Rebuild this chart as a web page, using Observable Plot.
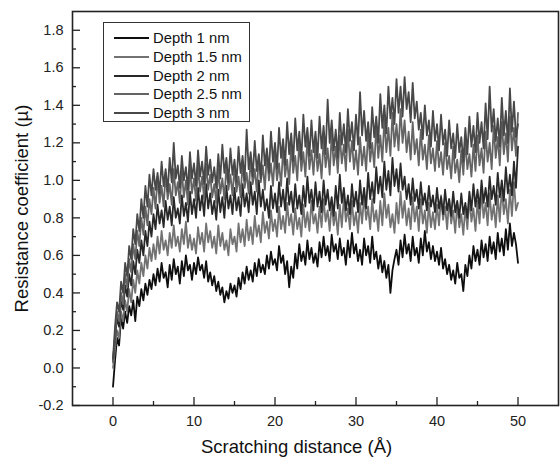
<!DOCTYPE html>
<html><head><meta charset="utf-8">
<script src="https://cdn.jsdelivr.net/npm/d3@7"></script>
<script src="https://cdn.jsdelivr.net/npm/@observablehq/plot@0.6"></script>
<style>
body{margin:0;background:#fff;}
#wrap{position:relative;width:560px;height:457px;font-family:"Liberation Sans",Arial,sans-serif;}
#legend{position:absolute;left:103px;top:22px;width:147px;height:100px;border:1px solid #333;background:#fff;box-sizing:border-box;}
.row{position:absolute;left:0;height:18px;display:flex;align-items:center;white-space:nowrap;}
.sw{display:inline-block;width:35px;height:2px;margin-left:10px;margin-right:4px;}
.lab{font-size:14.8px;color:#111;}
</style></head><body><div id="wrap"></div>
<script>
// Sampling step along scratching distance (Å)
const step = 0.25;
const seriesNames = ["Depth 1 nm", "Depth 1.5 nm", "Depth 2 nm", "Depth 2.5 nm", "Depth 3 nm"];
const seriesColors = ["#0e0e0e", "#727272", "#282828", "#646464", "#484848"];

const depth1 = [
 -0.10,0.04,0.16,0.12,0.27,0.21,0.30,0.24,0.33,0.28,0.36,0.25,0.38,0.33,0.42,0.36,0.45,0.39,0.47,0.42,
 0.50,0.44,0.53,0.46,0.56,0.48,0.51,0.43,0.55,0.47,0.58,0.50,0.54,0.45,0.57,0.49,0.60,0.52,0.55,0.47,
 0.56,0.50,0.59,0.52,0.55,0.48,0.57,0.46,0.51,0.44,0.49,0.41,0.46,0.39,0.43,0.35,0.41,0.37,0.45,0.40,
 0.44,0.38,0.48,0.42,0.51,0.45,0.54,0.47,0.52,0.46,0.56,0.49,0.58,0.51,0.55,0.50,0.60,0.53,0.62,0.55,
 0.58,0.52,0.65,0.56,0.60,0.50,0.57,0.43,0.54,0.48,0.61,0.53,0.66,0.57,0.62,0.55,0.68,0.58,0.64,0.56,
 0.61,0.54,0.67,0.59,0.70,0.60,0.65,0.57,0.71,0.62,0.66,0.58,0.69,0.60,0.64,0.55,0.68,0.59,0.72,0.61,
 0.66,0.57,0.63,0.55,0.69,0.60,0.65,0.56,0.70,0.58,0.62,0.53,0.60,0.51,0.57,0.48,0.55,0.40,0.52,0.58,
 0.63,0.55,0.68,0.59,0.71,0.61,0.66,0.57,0.70,0.60,0.64,0.56,0.69,0.60,0.73,0.62,0.67,0.58,0.65,0.57,
 0.62,0.55,0.64,0.53,0.58,0.50,0.55,0.47,0.52,0.45,0.56,0.48,0.50,0.41,0.55,0.49,0.60,0.53,0.65,0.57,
 0.63,0.55,0.68,0.59,0.66,0.57,0.70,0.61,0.67,0.58,0.72,0.62,0.69,0.60,0.74,0.63,0.77,0.65,0.72,0.66,
 0.56];
const depth15 = [
 0.00,0.10,0.20,0.16,0.30,0.25,0.36,0.30,0.42,0.35,0.47,0.40,0.52,0.45,0.56,0.49,0.60,0.53,0.64,0.57,
 0.66,0.58,0.70,0.61,0.73,0.63,0.68,0.60,0.72,0.64,0.76,0.65,0.70,0.62,0.74,0.66,0.78,0.64,0.71,0.63,
 0.69,0.61,0.75,0.66,0.72,0.62,0.77,0.67,0.73,0.64,0.70,0.61,0.76,0.65,0.72,0.63,0.68,0.60,0.74,0.66,
 0.70,0.62,0.77,0.67,0.74,0.65,0.79,0.68,0.75,0.66,0.81,0.70,0.76,0.67,0.83,0.72,0.78,0.69,0.84,0.73,
 0.79,0.70,0.86,0.74,0.81,0.72,0.88,0.76,0.82,0.71,0.85,0.74,0.80,0.70,0.87,0.75,0.83,0.73,0.89,0.77,
 0.82,0.72,0.86,0.75,0.90,0.78,0.84,0.73,0.88,0.76,0.83,0.71,0.87,0.75,0.91,0.78,0.85,0.74,0.89,0.76,
 0.83,0.72,0.88,0.77,0.92,0.79,0.86,0.74,0.90,0.78,0.84,0.73,0.89,0.76,0.93,0.80,0.87,0.75,0.82,0.72,
 0.88,0.77,0.94,0.80,0.89,0.76,0.85,0.74,0.91,0.78,0.86,0.73,0.90,0.77,0.84,0.72,0.88,0.75,0.83,0.74,
 0.87,0.76,0.92,0.79,0.86,0.74,0.90,0.77,0.84,0.72,0.88,0.75,0.82,0.71,0.86,0.74,0.91,0.78,0.85,0.73,
 0.89,0.77,0.94,0.80,0.88,0.76,0.93,0.79,0.87,0.75,0.92,0.78,0.96,0.82,0.90,0.77,0.95,0.81,0.99,0.84,
 0.88];
const depth2 = [
 0.04,0.16,0.27,0.22,0.36,0.31,0.44,0.38,0.50,0.44,0.57,0.50,0.63,0.56,0.68,0.60,0.73,0.65,0.78,0.70,
 0.82,0.74,0.87,0.77,0.84,0.75,0.89,0.79,0.86,0.76,0.91,0.80,0.85,0.77,0.92,0.81,0.88,0.78,0.94,0.82,
 0.90,0.80,0.96,0.84,0.92,0.81,0.98,0.85,0.93,0.82,0.89,0.79,0.95,0.83,0.91,0.80,0.97,0.85,0.92,0.82,
 0.96,0.84,0.91,0.81,0.98,0.86,0.93,0.83,0.99,0.87,0.94,0.82,1.00,0.86,0.95,0.84,0.90,0.80,0.97,0.85,
 0.93,0.83,0.99,0.86,0.95,0.84,1.01,0.87,0.94,0.83,0.98,0.85,0.92,0.82,0.97,0.86,1.02,0.88,0.95,0.84,
 0.99,0.86,0.94,0.83,1.00,0.87,0.95,0.84,0.91,0.81,0.97,0.85,1.03,0.88,0.96,0.84,0.92,0.82,0.98,0.86,
 0.94,0.83,1.00,0.87,0.96,0.85,1.04,0.90,0.99,0.88,1.07,0.93,1.02,0.91,1.10,0.95,1.05,0.92,1.12,0.97,
 1.06,0.94,1.09,0.95,1.02,0.90,0.98,0.87,1.01,0.89,0.95,0.85,0.99,0.87,0.93,0.84,0.97,0.86,0.92,0.83,
 0.96,0.85,0.91,0.82,0.95,0.84,0.90,0.81,0.94,0.83,0.89,0.80,0.93,0.82,0.88,0.80,0.94,0.84,0.98,0.86,
 0.95,0.85,1.00,0.88,0.96,0.86,1.02,0.90,0.97,0.87,1.04,0.91,1.00,0.89,1.07,0.93,1.03,0.92,1.10,0.96,
 1.18];
const depth25 = [
 0.03,0.18,0.30,0.25,0.40,0.34,0.50,0.43,0.58,0.51,0.66,0.58,0.73,0.65,0.80,0.71,0.86,0.76,0.90,0.82,
 0.96,0.85,1.02,0.88,0.97,0.86,1.04,0.90,0.98,0.87,1.06,0.92,0.99,0.88,1.05,0.91,1.00,0.87,1.07,0.93,
 1.01,0.89,1.08,0.94,1.02,0.90,1.09,0.95,1.03,0.91,0.98,0.88,1.06,0.93,1.01,0.90,1.08,0.95,1.03,0.92,
 1.07,0.94,1.02,0.91,1.10,0.96,1.04,0.93,1.12,0.98,1.06,0.94,1.13,0.99,1.08,0.95,1.15,1.00,1.09,0.97,
 1.14,1.00,1.09,0.97,1.17,1.02,1.11,0.98,1.19,1.04,1.13,1.00,1.21,1.05,1.15,1.02,1.23,1.06,1.16,1.03,
 1.20,1.05,1.14,1.01,1.22,1.07,1.17,1.03,1.25,1.08,1.18,1.04,1.24,1.09,1.19,1.05,1.27,1.10,1.21,1.06,
 1.16,1.03,1.23,1.08,1.18,1.05,1.26,1.10,1.20,1.07,1.29,1.12,1.24,1.10,1.33,1.15,1.28,1.13,1.36,1.18,
 1.30,1.16,1.38,1.20,1.32,1.15,1.26,1.11,1.31,1.14,1.22,1.08,1.27,1.11,1.19,1.06,1.24,1.09,1.17,1.05,
 1.21,1.07,1.15,1.03,1.20,1.06,1.13,1.01,1.18,1.04,1.11,0.99,1.16,1.03,1.21,1.06,1.14,1.02,1.19,1.05,
 1.24,1.08,1.17,1.04,1.26,1.10,1.20,1.06,1.29,1.12,1.23,1.08,1.31,1.14,1.25,1.10,1.34,1.16,1.28,1.13,
 1.36];
const depth3 = [
 0.05,0.22,0.35,0.30,0.46,0.40,0.56,0.49,0.65,0.58,0.74,0.66,0.82,0.73,0.90,0.80,0.97,0.86,1.03,0.92,
 1.06,0.95,1.04,0.93,1.10,0.97,1.06,0.94,1.12,0.99,1.20,1.01,1.08,0.96,1.13,1.00,1.07,0.95,1.15,1.01,
 1.09,0.97,1.16,1.02,1.10,0.98,1.18,1.03,1.11,0.99,1.07,0.96,1.14,1.01,1.19,1.04,1.12,0.99,1.17,1.03,
 1.11,0.99,1.18,1.04,1.13,1.00,1.27,1.06,1.15,1.02,1.21,1.05,1.14,1.01,1.24,1.08,1.17,1.04,1.26,1.10,
 1.20,1.06,1.28,1.12,1.22,1.08,1.31,1.14,1.25,1.10,1.33,1.16,1.26,1.11,1.35,1.18,1.28,1.13,1.32,1.15,
 1.26,1.12,1.34,1.17,1.29,1.14,1.43,1.20,1.32,1.16,1.27,1.12,1.36,1.19,1.30,1.15,1.38,1.21,1.31,1.16,
 1.35,1.19,1.47,1.24,1.37,1.21,1.31,1.17,1.39,1.23,1.34,1.20,1.46,1.28,1.40,1.25,1.50,1.33,1.44,1.30,
 1.54,1.36,1.50,1.34,1.55,1.38,1.47,1.31,1.52,1.33,1.42,1.27,1.36,1.22,1.40,1.24,1.32,1.18,1.37,1.21,
 1.30,1.16,1.35,1.19,1.27,1.13,1.32,1.17,1.25,1.12,1.30,1.15,1.23,1.10,1.28,1.14,1.34,1.18,1.29,1.15,
 1.36,1.20,1.31,1.17,1.41,1.22,1.50,1.26,1.38,1.21,1.33,1.18,1.44,1.24,1.37,1.20,1.49,1.26,1.42,1.23,
 1.30];

const yMajor = [-0.2,0.0,0.2,0.4,0.6,0.8,1.0,1.2,1.4,1.6,1.8];
const yMinor = [-0.1,0.1,0.3,0.5,0.7,0.9,1.1,1.3,1.5,1.7];
const xMajor = [0,10,20,30,40,50];
const xMinor = [5,15,25,35,45];

const allSeries = [depth1, depth15, depth2, depth25, depth3];
const data = [];
allSeries.forEach((vals, k) => vals.forEach((v, i) => data.push({x: i * step, y: v, s: seriesNames[k]})));

const W = 560, H = 457, mL = 72, mT = 11, mR = 2, mB = 52;
const pw = W - mL - mR, ph = H - mT - mB;
const font = "'Liberation Sans', Arial, sans-serif";

const chart = Plot.plot({
  width: W, height: H,
  marginLeft: mL, marginTop: mT, marginRight: mR, marginBottom: mB,
  style: {fontFamily: font, background: "#fff", color: "#222"},
  x: {domain: [-5, 55]},
  y: {domain: [-0.2, 1.9]},
  color: {type: "ordinal", domain: seriesNames, range: seriesColors},
  marks: [
    Plot.line(data, {x: "x", y: "y", z: "s", stroke: "s", strokeWidth: 1.8, strokeLinejoin: "round"}),
    Plot.tickY(yMajor, {y: d => d, stroke: "#222", strokeWidth: 1.3, insetRight: pw - 8}),
    Plot.tickY(yMinor, {y: d => d, stroke: "#222", strokeWidth: 1.3, insetRight: pw - 4}),
    Plot.tickX(xMajor, {x: d => d, stroke: "#222", strokeWidth: 1.3, insetTop: ph - 8}),
    Plot.tickX(xMinor, {x: d => d, stroke: "#222", strokeWidth: 1.3, insetTop: ph - 4}),
    Plot.frame({stroke: "#222", strokeWidth: 1.6}),
    Plot.axisY({ticks: yMajor, tickSize: 0, tickPadding: 9, tickFormat: d => d.toFixed(1), fontSize: 14.5, label: null}),
    Plot.axisX({ticks: xMajor, tickSize: 0, tickPadding: 10, tickFormat: d => String(d), fontSize: 14.5, label: null}),
    Plot.text(["Scratching distance (Å)"], {frameAnchor: "bottom", textAnchor: "middle", dx: -19, dy: 42, lineAnchor: "middle", fontSize: 18.5, fill: "#111", text: d => d}),
    Plot.text(["Resistance coefficient (µ)"], {frameAnchor: "left", textAnchor: "middle", dx: -50, rotate: -90, lineAnchor: "middle", fontSize: 18.5, fill: "#111", text: d => d})
  ]
});

const wrap = document.getElementById("wrap");
wrap.appendChild(chart);

const legend = document.createElement("div");
legend.id = "legend";
seriesNames.forEach((name, i) => {
  const row = document.createElement("div");
  row.className = "row";
  row.style.top = (6 + i * 18.75) + "px";
  const sw = document.createElement("span");
  sw.className = "sw";
  sw.style.background = seriesColors[i];
  const lab = document.createElement("span");
  lab.className = "lab";
  lab.textContent = name;
  row.appendChild(sw); row.appendChild(lab);
  legend.appendChild(row);
});
wrap.appendChild(legend);
</script></body></html>
